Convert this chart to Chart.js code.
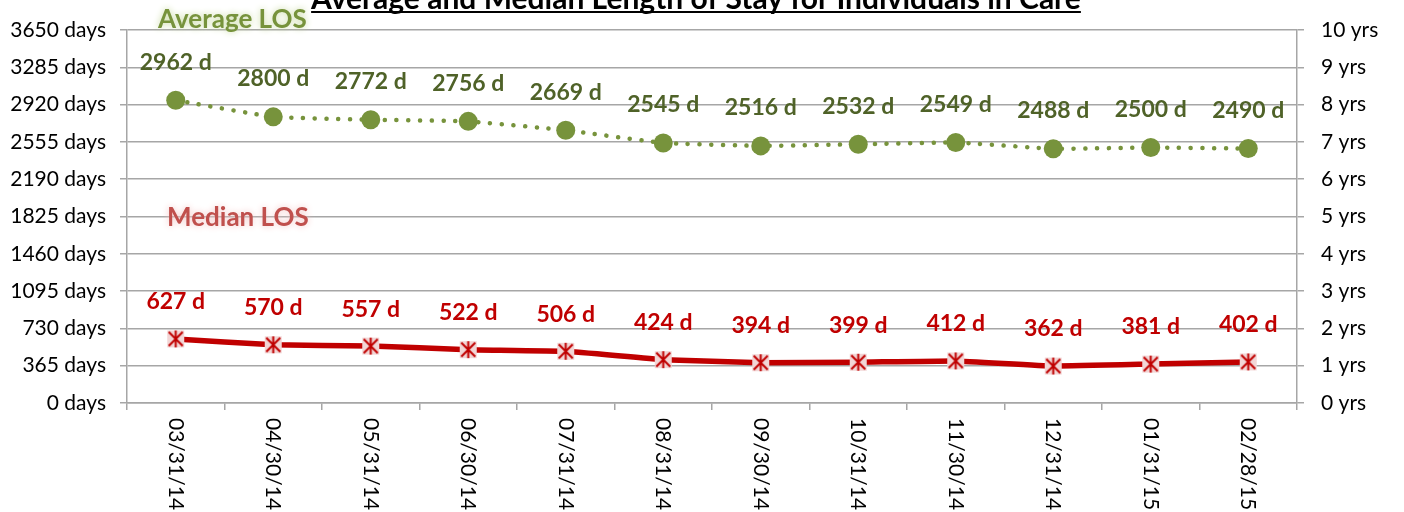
<!DOCTYPE html>
<html>
<head>
<meta charset="utf-8">
<script src="https://cdn.jsdelivr.net/npm/chart.js@4"></script>
<style>
  html, body { margin: 0; padding: 0; background: #fff; }
  #wrap { width: 1404px; height: 512px; position: relative; }
</style>
</head>
<body>
<div id="wrap"><canvas id="myChart"></canvas></div>
<script>
const dates = ["03/31/14", "04/30/14", "05/31/14", "06/30/14", "07/31/14", "08/31/14",
  "09/30/14", "10/31/14", "11/30/14", "12/31/14", "01/31/15", "02/28/15"];
const avgLos = [2962, 2800, 2772, 2756, 2669, 2545, 2516, 2532, 2549, 2488, 2500, 2490];
const medianLos = [627, 570, 557, 522, 506, 424, 394, 399, 412, 362, 381, 402];
const dayTicks = [0, 365, 730, 1095, 1460, 1825, 2190, 2555, 2920, 3285, 3650];
const yearTicks = [0, 1, 2, 3, 4, 5, 6, 7, 8, 9, 10];

const FONT = "Lato, 'Open Sans', sans-serif";
const gridGray = '#a6a6a6';

// pink square with red X and vertical bar, like the Excel marker
function starMarker() {
  const c = document.createElement('canvas');
  c.width = 19; c.height = 19;
  const g = c.getContext('2d');
  g.fillStyle = '#f2d6d6';
  g.fillRect(1, 1, 17, 17);
  g.strokeStyle = '#c00000';
  g.lineWidth = 2;
  g.beginPath();
  g.moveTo(2.5, 2.5); g.lineTo(16.5, 16.5);
  g.moveTo(16.5, 2.5); g.lineTo(2.5, 16.5);
  g.moveTo(9.5, 1); g.lineTo(9.5, 18);
  g.stroke();
  return c;
}

const extras = {
  id: 'extras',
  afterDatasetsDraw(chart) {
    const ctx = chart.ctx;
    ctx.save();
    // value labels
    ctx.font = "bold 23px " + FONT;
    ctx.textAlign = 'center';
    ctx.textBaseline = 'middle';
    chart.getDatasetMeta(0).data.forEach((p, i) => {
      ctx.fillStyle = '#4f6228';
      ctx.fillText(avgLos[i] + ' d', p.x, p.y - 38);
    });
    chart.getDatasetMeta(1).data.forEach((p, i) => {
      ctx.fillStyle = '#c00000';
      ctx.fillText(medianLos[i] + ' d', p.x, p.y - 37);
    });

    // series names with glow
    ctx.font = "bold 26px " + FONT;
    ctx.textAlign = 'left';
    ctx.shadowBlur = 7;
    ctx.shadowColor = '#c4d79b';
    ctx.fillStyle = '#77933c';
    ctx.fillText('Average LOS', 158, 20);
    ctx.shadowColor = '#f2c4c4';
    ctx.fillStyle = '#c0504d';
    ctx.fillText('Median LOS', 167, 218);
    ctx.shadowBlur = 0;

    // title, cut off at the top like the reference
    ctx.font = "bold 30px " + FONT;
    ctx.fillStyle = '#000';
    ctx.textAlign = 'center';
    ctx.textBaseline = 'alphabetic';
    const title = 'Average and Median Length of Stay for Individuals in Care';
    ctx.fillText(title, 696, 9);
    const w = ctx.measureText(title).width;
    ctx.fillRect(696 - w / 2, 11, w, 2);

    // rotated x labels reading top to bottom
    const x = chart.scales.x;
    ctx.font = "21px " + FONT;
    ctx.fillStyle = '#000';
    ctx.textAlign = 'left';
    ctx.textBaseline = 'middle';
    dates.forEach((d, i) => {
      ctx.save();
      ctx.translate(x.getPixelForValue(i), x.top + 15);
      ctx.rotate(Math.PI / 2);
      ctx.fillText(d, 0, 0);
      ctx.restore();
    });
    ctx.restore();
  }
};

new Chart("myChart", {
  type: "line",
  data: {
    labels: dates,
    datasets: [{
      label: 'Average LOS',
      data: avgLos,
      yAxisID: 'y',
      borderColor: '#77933c',
      borderWidth: 4.5,
      borderDash: [0.1, 11.6],
      borderCapStyle: 'round',
      pointRadius: 9.5,
      pointHoverRadius: 9.5,
      pointBackgroundColor: '#77933c',
      pointBorderWidth: 0,
      tension: 0.1
    }, {
      label: 'Median LOS',
      data: medianLos,
      yAxisID: 'y',
      borderColor: '#c00000',
      borderWidth: 5.5,
      pointStyle: starMarker(),
      pointRadius: 9.5,
      tension: 0.1
    }]
  },
  options: {
    responsive: true,
    maintainAspectRatio: false,
    animation: false,
    layout: { padding: { top: 30, left: 0, right: 0, bottom: 0 } },
    plugins: {
      legend: { display: false },
      title: { display: false },
      tooltip: { enabled: false }
    },
    scales: {
      x: {
        offset: true,
        grid: { offset: true, drawOnChartArea: false, color: gridGray, tickLength: 7, lineWidth: 1.5 },
        border: { color: gridGray, width: 1.5 },
        ticks: { color: 'rgba(0,0,0,0)', maxRotation: 0, autoSkip: false, font: { size: 10 } },
        afterFit(s) { s.height = 109; }
      },
      y: {
        position: 'left',
        min: 0,
        max: 3650,
        afterBuildTicks(s) { s.ticks = dayTicks.map(v => ({ value: v })); },
        ticks: {
          color: '#000',
          font: { family: FONT, size: 21 },
          padding: 14,
          callback: v => v + ' days'
        },
        grid: { color: gridGray, lineWidth: 1.5, tickLength: 7 },
        border: { color: gridGray, width: 1.5 },
        afterFit(s) { s.width = 127; }
      },
      y2: {
        position: 'right',
        min: 0,
        max: 10,
        afterBuildTicks(s) { s.ticks = yearTicks.map(v => ({ value: v })); },
        ticks: {
          color: '#000',
          font: { family: FONT, size: 21 },
          padding: 17,
          callback: v => v + ' yrs'
        },
        grid: { drawOnChartArea: false, color: gridGray, lineWidth: 1.5, tickLength: 7 },
        border: { color: gridGray, width: 1.5 },
        afterFit(s) { s.width = 107; }
      }
    }
  },
  plugins: [extras]
});
</script>
</body>
</html>
